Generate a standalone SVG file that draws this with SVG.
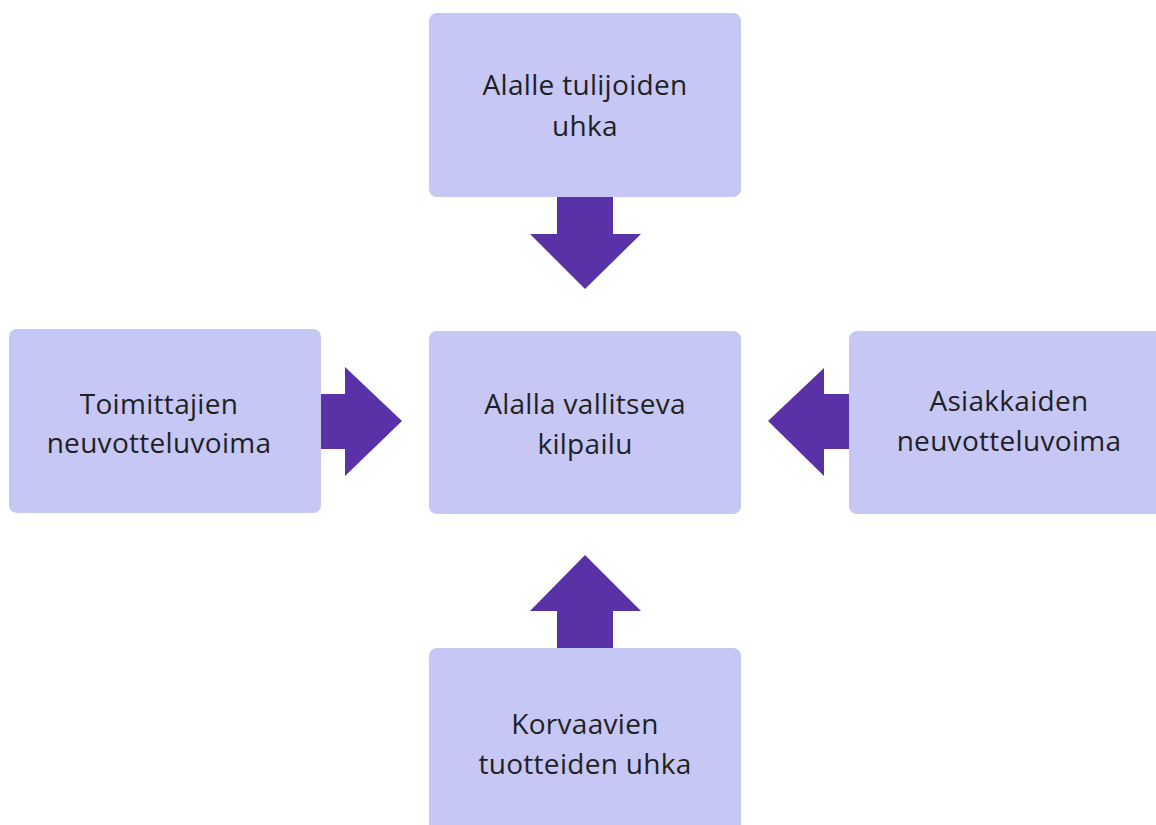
<svg xmlns="http://www.w3.org/2000/svg" width="1156" height="825" viewBox="0 0 1156 825">
<style>
.box{fill:#C6C7F4}
.arr{fill:#5A32A8}
.t{font-family:"Open Sans",Lato,sans-serif;font-size:28px;letter-spacing:0.3px;fill:#1f1f24;text-anchor:middle}
</style>
<rect width="1156" height="825" fill="#ffffff"/>
<g id="connectors">
<polygon class="arr" points="557,197 613,197 613,234 641,234 585,289 530,234 557,234"/>
<polygon class="arr" points="321,394 345,394 345,367 402,421 345,476 345,449 321,449"/>
<polygon class="arr" points="849,394 824,394 824,368 768,421 824,476 824,449 849,449"/>
<polygon class="arr" points="557,648 613,648 613,611 641,611 585,555 530,611 557,611"/>
</g>
<g id="top"><rect class="box" x="429" y="13" width="312" height="184" rx="8"/><text class="t" x="585" y="95">Alalle tulijoiden</text><text class="t" x="585" y="136">uhka</text></g>
<g id="center"><rect class="box" x="429" y="331" width="312" height="183" rx="8"/><text class="t" x="585" y="414">Alalla vallitseva</text><text class="t" x="585" y="454">kilpailu</text></g>
<g id="left"><rect class="box" x="9" y="329" width="312" height="184" rx="8"/><text class="t" x="159" y="414">Toimittajien</text><text class="t" x="159" y="453">neuvotteluvoima</text></g>
<g id="right"><rect class="box" x="849" y="331" width="315" height="183" rx="8"/><text class="t" x="1009" y="411">Asiakkaiden</text><text class="t" x="1009" y="451">neuvotteluvoima</text></g>
<g id="bottom"><rect class="box" x="429" y="648" width="312" height="190" rx="8"/><text class="t" x="585" y="734">Korvaavien</text><text class="t" x="585" y="774">tuotteiden uhka</text></g>
</svg>
